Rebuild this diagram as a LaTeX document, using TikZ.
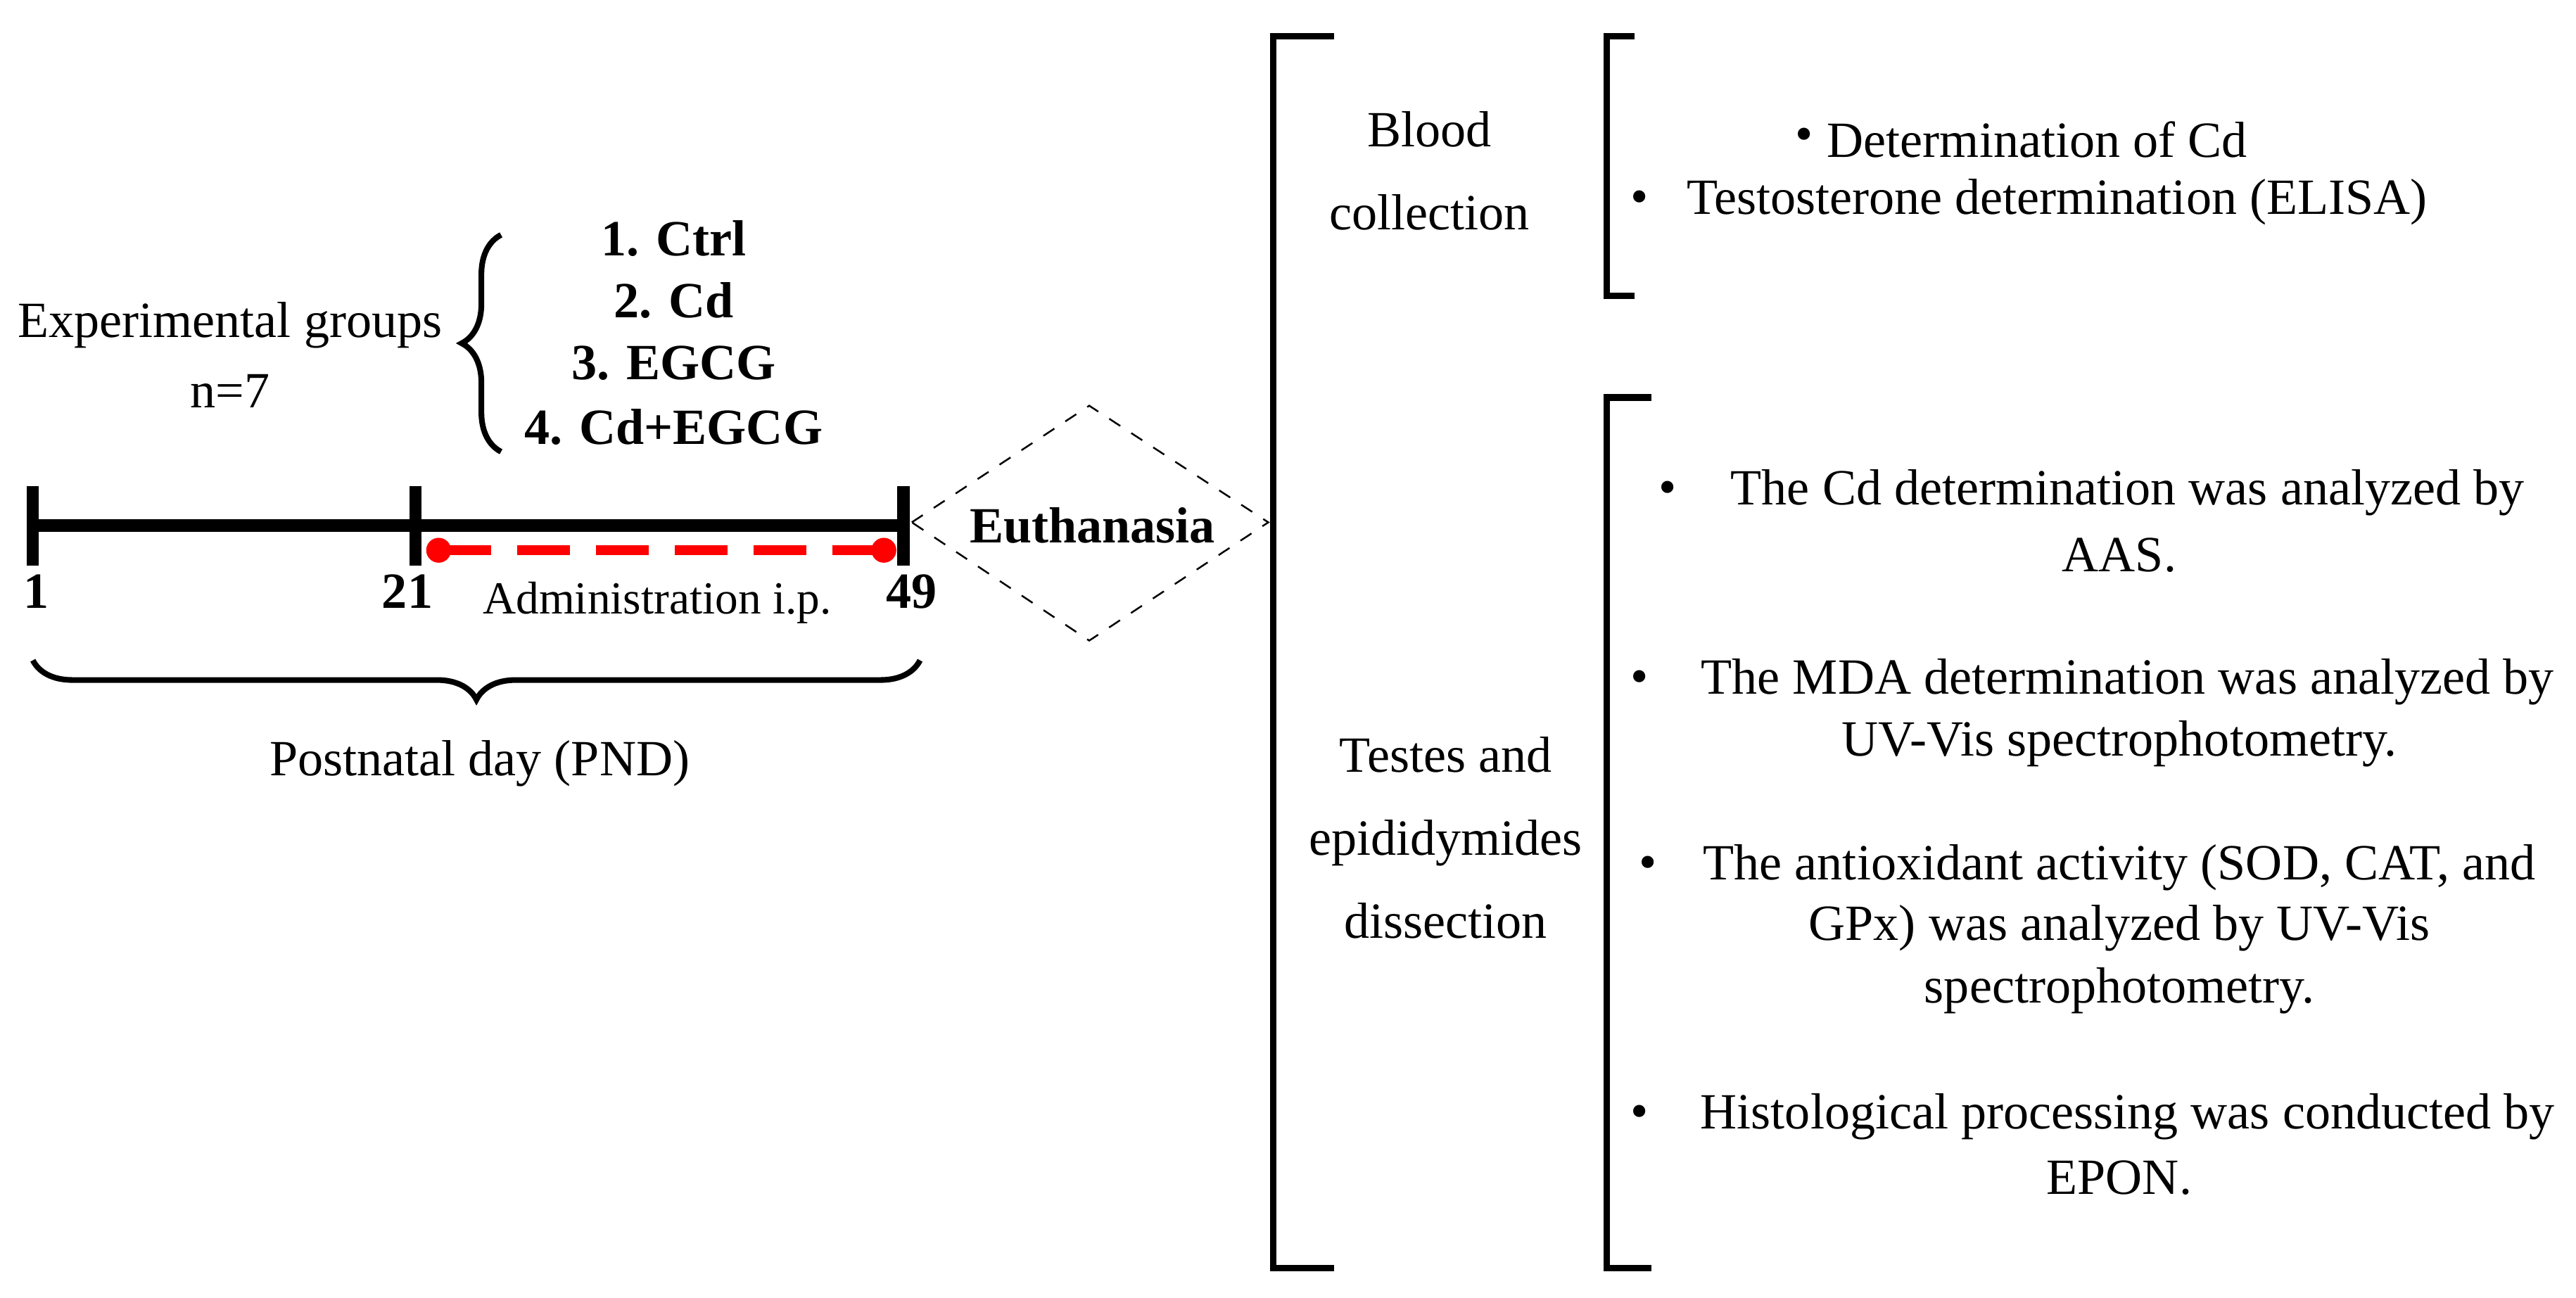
\documentclass[tikz,border=0pt]{standalone}
\usepackage{fontspec}
\setmainfont{Liberation Serif}
\usetikzlibrary{decorations.pathreplacing,shapes.geometric}
\begin{document}
\begin{tikzpicture}[x=0.0132cm,y=-0.0132cm,
  t/.style={font=\fontsize{11.6}{14}\selectfont,inner sep=0},
  tb/.style={t,font=\fontsize{11.6}{14}\selectfont\bfseries},
  brk/.style={line width=1.5pt},
  brace/.style={line width=1.3pt,decorate,decoration={brace,amplitude=9pt}}]
\useasboundingbox (0,0) rectangle (1568,790);
% timeline
\coordinate (s) at (20,320); \coordinate (m) at (253,320); \coordinate (e) at (550,320);
\draw[line width=2.8pt] (s) -- (e);
\foreach \p in {s,m,e} \draw[line width=2.8pt] ([yshift=0.32cm]\p) -- ([yshift=-0.32cm]\p);
\coordinate (r1) at (267,335); \coordinate (r2) at (538,335);
\draw[red,line width=2.2pt,dash pattern=on 12pt off 6pt] (r1) -- (r2);
\fill[red] (r1) circle (0.1cm) (r2) circle (0.1cm);
\node[tb] (n1) at (22,360) {1};
\node[tb] (n21) at (248,360) {21};
\node[tb] (n49) at (555,360) {49};
\node[t,font=\fontsize{10.5}{13}\selectfont] (adm) at (400,367) {Administration i.p.};
\draw[brace,decoration={mirror}] (20,402) -- (560,402);
\node[t] (pnd) at (292,465) {Postnatal day (PND)};
% groups
\node[t] (eg) at (140,198) {Experimental groups};
\node[t] (n7) at (140,238) {n=7};
\draw[brace] (305,275) -- (305,143);
\node[tb] (g1) at (410,145) {1. Ctrl};
\node[tb] (g2) at (410,183) {2. Cd};
\node[tb] (g3) at (410,221) {3. EGCG};
\node[tb] (g4) at (410,260) {4. Cd+EGCG};
% diamond
\draw[dashed,thin] (555,318) -- (663,247) -- (772,318) -- (663,390) -- cycle;
\node[tb] (eu) at (665,320) {Euthanasia};
% brackets
\draw[brk] (812,22) -- (775,22) -- (775,772) -- (812,772);
\draw[brk] (995,22) -- (978,22) -- (978,180) -- (995,180);
\draw[brk] (1005,242) -- (978,242) -- (978,772) -- (1005,772);
\node[t,align=center] (bc) at (870,104) {Blood\\[5pt]collection};
\node[t,align=center] (te) at (880,510) {Testes and\\[5pt]epididymides\\[5pt]dissection};
% bullets
\node[t] at (1098,85) {•}; \node[t] (b1) at (1240,85) {Determination of Cd};
\node[t] at (998,123) {•}; \node[t] (b2) at (1252,123) {Testosterone determination (ELISA)};
\node[t] at (1015,300) {•}; \node[t] (c1) at (1295,300) {The Cd determination was analyzed by};
\node[t] (c1b) at (1290,338) {AAS.};
\node[t] at (998,415) {•}; \node[t] (c2) at (1295,415) {The MDA determination was analyzed by};
\node[t] (c2b) at (1290,453) {UV-Vis spectrophotometry.};
\node[t] at (1003,528) {•}; \node[t] (c3) at (1290,528) {The antioxidant activity (SOD, CAT, and};
\node[t] (c3b) at (1290,565) {GPx) was analyzed by UV-Vis};
\node[t] (c3c) at (1290,603) {spectrophotometry.};
\node[t] at (998,680) {•}; \node[t] (c4) at (1295,680) {Histological processing was conducted by};
\node[t] (c4b) at (1290,717) {EPON.};
\end{tikzpicture}
\end{document}
